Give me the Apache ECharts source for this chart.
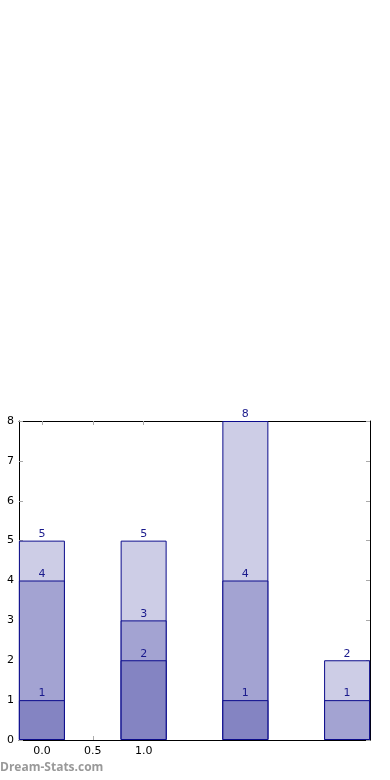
<!DOCTYPE html>
<html><head><meta charset="utf-8">
<script src="https://cdn.jsdelivr.net/npm/echarts@6/dist/echarts.min.js"></script>
<style>html,body{margin:0;padding:0;background:#fff}#c{width:390px;height:780px}</style>
</head><body><div id="c"></div>
<script>
const xPositions = [0, 1, 2, 3];
const darkValues = [1, 2, 1, 0];
const mediumValues = [3, 1, 3, 1];
const lightValues = [1, 2, 4, 1];
const xTickValues = [0, 0.5, 1.0];

const seriesValues = [darkValues, mediumValues, lightValues];
const colors = ['#8484c2', '#a3a3d2', '#cdcde6'];
// cumulative tops of each stacked segment
const cum = seriesValues.map((s, i) => s.map((v, j) => seriesValues.slice(0, i + 1).reduce((a, arr) => a + arr[j], 0)));

const chart = echarts.init(document.getElementById('c'));
const font = 'DejaVu Sans';
const xAxisBase = {
  type: 'value', min: -0.225, max: 3.225,
  axisLine: {show: true, onZero: false, lineStyle: {color: '#000', width: 1}},
  splitLine: {show: false},
  axisTick: {show: true, inside: true, length: 4, lineStyle: {color: '#aaa'}, customValues: xTickValues},
};
const yAxisBase = {
  type: 'value', min: 0, max: 8, interval: 1,
  axisLine: {show: true, onZero: false, lineStyle: {color: '#000', width: 1}},
  splitLine: {show: false},
  axisTick: {show: true, inside: true, length: 4, lineStyle: {color: '#aaa'}},
};
// draw from the top segment down so lower segments overlay the taller bars
const order = [2, 1, 0];
chart.setOption({
  animation: false,
  grid: {left: 19, right: 20, top: 421, bottom: 40, containLabel: false},
  xAxis: [
    Object.assign({}, xAxisBase, {position: 'bottom',
      axisLabel: {show: true, customValues: xTickValues, formatter: v => v.toFixed(1), color: '#000', fontFamily: font, fontSize: 11, margin: 6}}),
    Object.assign({}, xAxisBase, {position: 'top', axisLabel: {show: false}})
  ],
  yAxis: [
    Object.assign({}, yAxisBase, {position: 'left',
      axisLabel: {show: true, color: '#000', fontFamily: font, fontSize: 11, margin: 5}}),
    Object.assign({}, yAxisBase, {position: 'right', axisLabel: {show: false}})
  ],
  graphic: [{type: 'text', left: 0, top: 762, style: {text: 'Dream-Stats.com', fill: '#999', font: 'bold 12px "Open Sans"'}}],
  series: order.map(i => ({
    type: 'bar', barWidth: 46, barGap: '-100%', xAxisIndex: 0, yAxisIndex: 0,
    data: xPositions.map((x, j) => seriesValues[i][j] === 0 ? [x, null] : [x, cum[i][j]]),
    itemStyle: {color: colors[i], borderColor: '#0c0c8c', borderWidth: 1},
    label: {show: true, position: 'top', distance: 1, color: '#1a1a8c', fontFamily: font, fontSize: 11,
      formatter: p => String(cum[i][p.dataIndex])}
  }))
});
</script></body></html>
